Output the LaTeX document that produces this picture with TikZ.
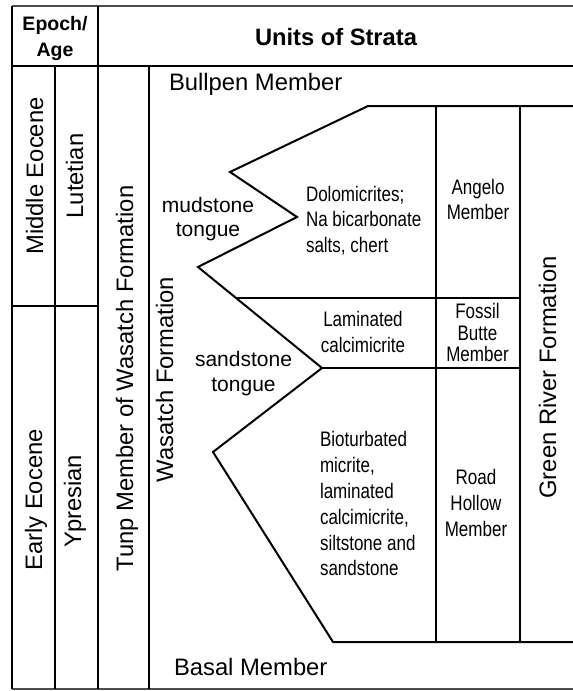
\documentclass[tikz,border=0pt]{standalone}
\usepackage{fontspec}
\setmainfont{Liberation Sans}
\newfontfamily\narrowfont[FakeStretch=0.81]{Liberation Sans}
\usepackage{tikz}

\begin{document}
\begin{tikzpicture} [x=1pt, y=-1pt, line width=2pt,
  bigtext/.style={font=\fontsize{23.8}{28}\selectfont, inner sep=0pt},
  headtext/.style={font=\fontsize{23.7}{28}\selectfont\bfseries, inner sep=0pt},
  midtext/.style={font=\fontsize{21}{24.5}\selectfont, inner sep=0pt, align=center},
  smalltext/.style={font=\fontsize{21}{25.8}\selectfont\narrowfont, inner sep=0pt, align=center},
  uptext/.style={bigtext, rotate=90, anchor=base}]
\useasboundingbox (0,0) rectangle (573,691);

\draw[gray!60!black, line width=1.5pt] (12,6)--(573,6) (12,689)--(573,689);
\draw (12,66)--(573,66) (12,306)--(98,306);
\foreach \x in {12,98} \draw (\x,6)--(\x,689);
\foreach \x in {55,149} \draw (\x,66)--(\x,689);

\draw (573,106)--(368,106)--(230,172)--(297,217)--(198,267)--(322,368)--(213,452)--(333,642)--(573,642);
\draw (236,298)--(520,298) (322,368)--(520,368);
\foreach \x in {436,520} \draw (\x,106)--(\x,642);

\node[headtext, font=\fontsize{19.5}{26.3}\selectfont\bfseries, align=center] (epoch) at (55,38.8) {Epoch/\\Age};
\node[headtext, anchor=base] (units) at (336,45) {Units of Strata};
\node[bigtext, anchor=base west] (bullpen) at (168,90) {Bullpen Member};
\node[bigtext, anchor=base west] (basal) at (173,675) {Basal Member};

\node[uptext] (middle) at (43,176) {Middle Eocene};
\node[uptext] (lutetian) at (83,176) {Lutetian};
\node[uptext] (early) at (42,500) {Early Eocene};
\node[uptext] (ypresian) at (81,501) {Ypresian};
\node[uptext] (tunp) at (133,378.5) {Tunp Member of Wasatch Formation};
\node[uptext] (wasatch) at (173,379.5) {Wasatch Formation};
\node[uptext] (greenriver) at (556,377.5) {Green River Formation};

\node[midtext] (mudstone) at (208,219.3) {mudstone\\tongue};
\node[midtext, font=\fontsize{21}{25}\selectfont] (sandstone) at (243.5,374) {sandstone\\tongue};

\node[smalltext, font=\fontsize{21}{25.5}\selectfont\narrowfont, align=left, anchor=west] (dolomicrites) at (305,220.4) {Dolomicrites;\\Na bicarbonate\\salts, chert};
\node[smalltext, font=\fontsize{21}{25}\selectfont\narrowfont] (angelo) at (478,199.9) {Angelo\\Member};
\node[smalltext, font=\fontsize{21}{26}\selectfont\narrowfont] (laminated) at (363,332.3) {Laminated\\calcimicrite};
\node[smalltext, font=\fontsize{21}{21.5}\selectfont\narrowfont] (fossil) at (477.5,332.8) {Fossil\\Butte\\Member};
\node[smalltext, align=left, anchor=west] (bioturbated) at (319,503.8) {Bioturbated\\micrite,\\laminated\\calcimicrite,\\siltstone and\\sandstone};
\node[smalltext, font=\fontsize{21}{26}\selectfont\narrowfont] (road) at (476,503.3) {Road\\Hollow\\Member};

\end{tikzpicture}
\end{document}
